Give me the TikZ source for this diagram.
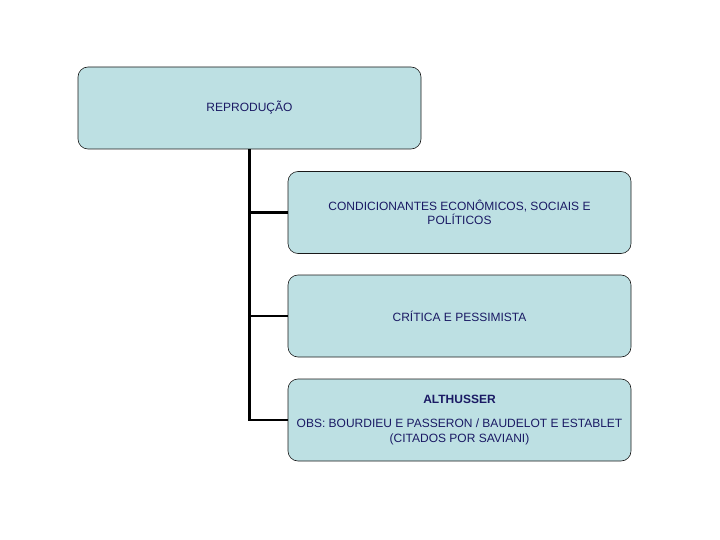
\documentclass[tikz,border=0pt]{standalone}
\usepackage{fontspec}
\setmainfont{Liberation Sans}
\usepackage{tikz}
\definecolor{pale cyan}{RGB}{189,224,227}
\definecolor{ink navy}{RGB}{26,26,100}
\tikzset{
	topic/.style={draw=black!90, fill=pale cyan, rounded corners=10pt, line width=0.6pt,
		minimum width=343pt, minimum height=82pt, align=center,
		text=ink navy, font=\fontsize{12}{14.5}\selectfont, inner sep=2pt},
	branch/.style={line width=2.6pt, black}
}
\begin{document}
\begin{tikzpicture}[x=1pt, y=-1pt]
			% canvas
			\useasboundingbox (0, 0) rectangle (720, 540);
			% boxes
			\node[topic] (repro) at (249.5, 108) {REPRODUÇÃO};
			\node[topic] (cond) at (459.5, 212.5) {CONDICIONANTES ECONÔMICOS, SOCIAIS E\\POLÍTICOS};
			\node[topic] (crit) at (459.5, 316) {CRÍTICA E PESSIMISTA};
			\node[topic] (alth) at (459.5, 420) {\textbf{ALTHUSSER}\\[10pt]OBS: BOURDIEU E PASSERON / BAUDELOT E ESTABLET\\(CITADOS POR SAVIANI)};
			% connectors
			\draw[branch] (repro.south) |- (cond.west);
			\draw[branch] (repro.south) |- (crit.west);
			\draw[branch] (repro.south) |- (alth.west);
\end{tikzpicture}
\end{document}
